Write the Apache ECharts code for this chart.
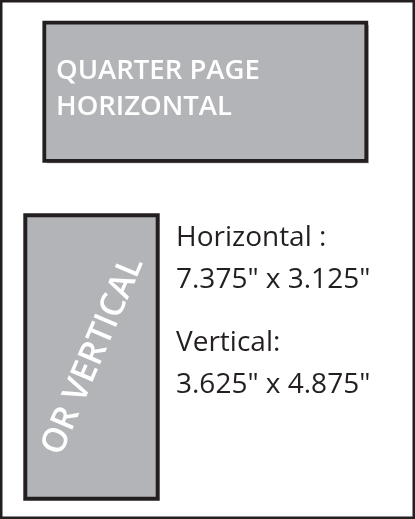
<!DOCTYPE html>
<html>
<head>
<meta charset="utf-8">
<script src="https://cdn.jsdelivr.net/npm/echarts@6/dist/echarts.min.js"></script>
<style>
  html, body { margin: 0; padding: 0; background: #fff; }
  #main { width: 415px; height: 519px; }
</style>
</head>
<body>
<div id="main"></div>
<script>
// text of the ad spec sheet
var horizontalTitle = ['QUARTER PAGE', 'HORIZONTAL'];
var verticalTitle = 'OR VERTICAL';
var sizeNames = ['Horizontal :', 'Vertical:'];
var sizeValues = ['7.375" x 3.125"', '3.625" x 4.875"'];

var ink = '#231f20';
var boxFill = '#b3b4b7';
var fontFam = '"Open Sans", sans-serif';

var mychart = echarts.init(document.getElementById('main'));

var elements = [
    // page frame
    {
        type: 'rect',
        shape: { x: 1.25, y: 1.25, width: 412.5, height: 516.5 },
        style: { fill: '#fff', stroke: ink, lineWidth: 2.5 }
    },
    // horizontal box shadow
    {
        type: 'rect',
        shape: { x: 46.8, y: 25.1, width: 322, height: 138.2 },
        style: { fill: '#a3a4a7' }
    },
    // horizontal box
    {
        type: 'rect',
        shape: { x: 44.3, y: 22.6, width: 322, height: 138.2 },
        style: { fill: boxFill, stroke: ink, lineWidth: 3.8 }
    },
    // vertical box
    {
        type: 'rect',
        shape: { x: 25.3, y: 215.3, width: 132.4, height: 283.4 },
        style: { fill: boxFill, stroke: ink, lineWidth: 4 }
    },
    {
        type: 'text',
        x: 93, y: 356,
        rotation: 67 * Math.PI / 180,
        style: {
            text: verticalTitle,
            fill: '#fff',
            font: '600 34px ' + fontFam,
            align: 'center',
            verticalAlign: 'middle'
        }
    }
];

// white titles inside horizontal box
horizontalTitle.forEach(function (t, i) {
    elements.push({
        type: 'text',
        x: 56, y: 71 + i * 36.5,
        style: {
            text: t,
            fill: '#fff',
            font: '600 27.5px ' + fontFam,
            align: 'left',
            verticalAlign: 'middle'
        }
    });
});

// size descriptions on the right
sizeNames.forEach(function (name, i) {
    var top = 238 + i * 105;
    elements.push({
        type: 'text',
        x: 176, y: top,
        style: {
            text: name,
            fill: ink,
            font: '28px ' + fontFam,
            align: 'left',
            verticalAlign: 'middle'
        }
    });
    elements.push({
        type: 'text',
        x: 176, y: top + 42,
        style: {
            text: sizeValues[i],
            fill: ink,
            font: '28px ' + fontFam,
            align: 'left',
            verticalAlign: 'middle'
        }
    });
});

mychart.setOption({
    animation: false,
    graphic: { elements: elements }
});
</script>
</body>
</html>
